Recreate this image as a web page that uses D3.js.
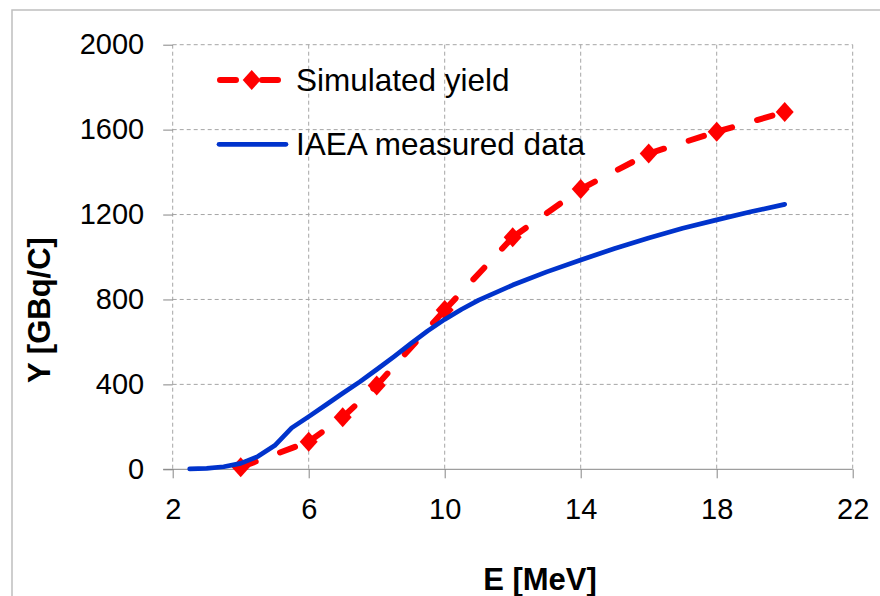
<!DOCTYPE html>
<html>
<head>
<meta charset="utf-8">
<script src="https://cdn.jsdelivr.net/npm/d3@7"></script>
<style>
  body { margin: 0; background: #fff; }
  svg { display: block; font-family: "Liberation Sans", Arial, sans-serif; }
</style>
</head>
<body>
<script>
// simulated yield (red, dashed with diamonds)
const simE = [4, 6, 7, 8, 10, 12, 14, 16, 18, 20];
const simY = [10, 130, 245, 395, 750, 1093, 1320, 1487, 1590, 1683];

// IAEA measured data (blue line)
const iaeaE = [2.5, 3, 3.5, 4, 4.5, 5, 5.5, 6, 6.5, 7, 7.5, 8, 8.5, 9, 9.5, 10,
    10.5, 11, 12, 13, 14, 15, 16, 17, 18, 19, 20];
const iaeaY = [2, 4, 12, 28, 60, 112, 195, 248, 303, 358, 412, 470, 530, 592, 652, 706,
    754, 797, 868, 930, 986, 1040, 1090, 1135, 1175, 1213, 1248];

const xTicks = [2, 6, 10, 14, 18, 22];
const yTicks = [0, 400, 800, 1200, 1600, 2000];
const seriesNames = ["Simulated yield", "IAEA measured data"];

const width = 880, height = 596;
const plot = { left: 172.7, right: 852.7, top: 44.7, bottom: 469.3 };

const red = "#ff0000", blue = "#0033cc";

const svg = d3.select("body").append("svg")
    .attr("width", width)
    .attr("height", height);

// outer chart border
svg.append("rect")
    .attr("x", 12).attr("y", 10)
    .attr("width", width + 20).attr("height", height + 20)
    .attr("fill", "none")
    .attr("stroke", "#bfbfbf")
    .attr("stroke-width", 1.5);

const x = d3.scaleLinear().domain([2, 22]).range([plot.left, plot.right]);
const y = d3.scaleLinear().domain([0, 2000]).range([plot.bottom, plot.top]);

// gridlines
svg.append("g")
    .selectAll("line")
    .data(yTicks.filter(d => d > 0))
    .join("line")
    .attr("x1", plot.left).attr("x2", plot.right)
    .attr("y1", d => y(d)).attr("y2", d => y(d))
    .attr("stroke", "#a6a6a6")
    .attr("stroke-dasharray", "4,3");

svg.append("g")
    .selectAll("line")
    .data(xTicks)
    .join("line")
    .attr("x1", d => x(d)).attr("x2", d => x(d))
    .attr("y1", plot.top).attr("y2", plot.bottom)
    .attr("stroke", "#a6a6a6")
    .attr("stroke-dasharray", "4,3");

// x axis (solid line at 0)
const xAxis = svg.append("g")
    .attr("transform", "translate(0," + y(0) + ")")
    .call(d3.axisBottom(x).tickValues(xTicks).tickFormat(d3.format("d"))
        .tickSize(9).tickPadding(20).tickSizeOuter(0));
xAxis.select(".domain")
    .attr("d", "M" + (plot.left - 9.5) + ",0H" + plot.right)
    .attr("stroke", "#868686");
xAxis.selectAll(".tick line").attr("stroke", "#868686");
xAxis.selectAll(".tick text")
    .attr("fill", "#000")
    .style("font-size", "29px");

// y axis (ticks only, no line)
const yAxis = svg.append("g")
    .attr("transform", "translate(" + x(2) + ",0)")
    .call(d3.axisLeft(y).tickValues(yTicks).tickFormat(d3.format("d"))
        .tickSize(9.5).tickPadding(19).tickSizeOuter(0));
yAxis.select(".domain").remove();
yAxis.selectAll(".tick line").attr("stroke", "#868686");
yAxis.selectAll(".tick text")
    .attr("fill", "#000")
    .style("font-size", "29px");

// axis titles
svg.append("text")
    .attr("x", 540).attr("y", 590)
    .attr("text-anchor", "middle")
    .style("font-size", "31px")
    .style("font-weight", "bold")
    .text("E [MeV]");

svg.append("text")
    .attr("transform", "translate(50,310) rotate(-90)")
    .attr("text-anchor", "middle")
    .style("font-size", "31px")
    .style("font-weight", "bold")
    .text("Y [GBq/C]");

const diamond = "M0,-10L9,0L0,10L-9,0Z";

// simulated yield: dash pattern restarts on each segment
const sim = simE.map((e, i) => ({ e: e, v: simY[i] }));
const segLine = d3.line().x(d => x(d.e)).y(d => y(d.v));
svg.append("g")
    .selectAll("path")
    .data(d3.pairs(sim))
    .join("path")
    .attr("d", d => segLine(d))
    .attr("fill", "none")
    .attr("stroke", red)
    .attr("stroke-width", 6)
    .attr("stroke-linecap", "round")
    .attr("stroke-dasharray", "16,26");

svg.append("g")
    .selectAll("path")
    .data(sim)
    .join("path")
    .attr("d", diamond)
    .attr("transform", d => "translate(" + x(d.e) + "," + y(d.v) + ")")
    .attr("fill", red);

// IAEA measured
const iaea = iaeaE.map((e, i) => ({ e: e, v: iaeaY[i] }));
svg.append("path")
    .datum(iaea)
    .attr("d", d3.line().x(d => x(d.e)).y(d => y(d.v)))
    .attr("fill", "none")
    .attr("stroke", blue)
    .attr("stroke-width", 4.7)
    .attr("stroke-linecap", "round")
    .attr("stroke-linejoin", "round");

// legend
const legend = svg.append("g");
const ly = [80, 144.3];

legend.append("line")
    .attr("x1", 220).attr("x2", 282)
    .attr("y1", ly[0]).attr("y2", ly[0])
    .attr("stroke", red)
    .attr("stroke-width", 6)
    .attr("stroke-linecap", "round")
    .attr("stroke-dasharray", "16,26");
legend.append("path")
    .attr("d", diamond)
    .attr("transform", "translate(251.7," + ly[0] + ")")
    .attr("fill", red);

legend.append("line")
    .attr("x1", 219).attr("x2", 286)
    .attr("y1", ly[1]).attr("y2", ly[1])
    .attr("stroke", blue)
    .attr("stroke-width", 4.7)
    .attr("stroke-linecap", "round");

legend.selectAll("text")
    .data(seriesNames)
    .join("text")
    .attr("x", 296)
    .attr("y", (d, i) => ly[i] + 10.5)
    .style("font-size", "31.5px")
    .text(d => d);
</script>
</body>
</html>
